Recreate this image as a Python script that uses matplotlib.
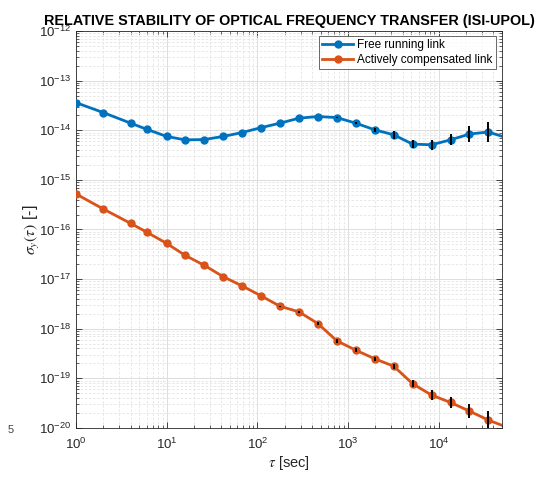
import matplotlib
matplotlib.use('Agg')
import matplotlib.pyplot as plt
import matplotlib.ticker as mticker
import numpy as np

plt.rcParams['font.family'] = ['Liberation Sans', 'DejaVu Sans']
plt.rcParams['mathtext.fontset'] = 'stix'

# averaging times [s]
tau = [1, 2, 4, 6, 10, 16, 26, 42, 68, 110, 178, 288, 466, 754,
       1220, 1974, 3194, 5168, 8362, 13530, 21892, 35422, 57314]

# Allan deviation, free running link
adev_free = [3.6e-14, 2.27e-14, 1.39e-14, 1.05e-14, 7.5e-15, 6.4e-15,
             6.5e-15, 7.5e-15, 9.0e-15, 1.13e-14, 1.39e-14, 1.75e-14,
             1.89e-14, 1.80e-14, 1.39e-14, 1.02e-14, 8.1e-15, 5.25e-15,
             5.1e-15, 6.4e-15, 8.4e-15, 9.2e-15, 7.0e-15]

# Allan deviation, actively compensated link
adev_comp = [5.2e-16, 2.59e-16, 1.33e-16, 8.9e-17, 5.25e-17, 3.01e-17,
             1.90e-17, 1.12e-17, 7.3e-18, 4.6e-18, 2.84e-18, 2.19e-18,
             1.27e-18, 5.7e-19, 3.7e-19, 2.48e-19, 1.76e-19, 7.8e-20,
             4.6e-20, 3.27e-20, 2.19e-20, 1.44e-20, 1.03e-20]

# multiplicative confidence factors (upper = y*f, lower = y/f)
conf_free = [1.0, 1.0, 1.0, 1.0, 1.0, 1.0, 1.0, 1.0, 1.0, 1.0, 1.0, 1.0,
             1.0, 1.02, 1.05, 1.10, 1.20, 1.19, 1.26, 1.29, 1.47, 1.57, 1.7]
conf_comp = [1.0, 1.0, 1.0, 1.0, 1.0, 1.0, 1.0, 1.0, 1.0, 1.0, 1.02, 1.04,
             1.08, 1.10, 1.10, 1.10, 1.12, 1.19, 1.26, 1.29, 1.38, 1.52, 1.6]

BLUE = '#0072BD'
ORANGE = '#D95319'

fig = plt.figure(figsize=(5.35, 4.79), dpi=100)
ax = fig.add_axes([76 / 535, 1 - 428 / 479, 426 / 535, 397 / 479])


def draw_series(y, conf, color, label):
    y = np.array(y)
    f = np.array(conf)
    ax.plot(tau, y, '-o', color=color, lw=2, ms=5, mfc=color, mec=color,
            label=label, zorder=3, clip_on=True)
    err = np.vstack([y - y / f, y * f - y])
    ax.errorbar(tau, y, yerr=err, fmt='none', ecolor='black', elinewidth=1.4,
                capsize=0, zorder=4)


draw_series(adev_free, conf_free, BLUE, 'Free running link')
draw_series(adev_comp, conf_comp, ORANGE, 'Actively compensated link')

ax.set_xscale('log')
ax.set_yscale('log')
ax.set_xlim(1, 5e4)
ax.set_ylim(1e-20, 1e-12)

ax.xaxis.set_major_locator(mticker.LogLocator(base=10, numticks=20))
ax.yaxis.set_major_locator(mticker.FixedLocator([10.0 ** k for k in range(-20, -11)]))
ax.xaxis.set_minor_locator(mticker.LogLocator(base=10, subs=np.arange(2, 10), numticks=20))
ax.yaxis.set_minor_locator(mticker.LogLocator(base=10, subs=np.arange(2, 10), numticks=20))
ax.yaxis.set_major_formatter(mticker.LogFormatterSciNotation())
ax.yaxis.set_minor_formatter(mticker.NullFormatter())
ax.xaxis.set_minor_formatter(mticker.NullFormatter())

ax.tick_params(which='both', direction='in', top=True, right=True,
               colors='#262626', labelcolor='#262626', labelsize=9.5)
ax.tick_params(which='major', length=4.5, width=0.6)
ax.tick_params(which='minor', length=2.5, width=0.5)
ax.tick_params(axis='x', pad=6)

ax.grid(True, which='major', color='#dddddd', lw=0.7, ls='-')
ax.grid(True, which='minor', color='#e4e4e4', lw=0.6, ls=(0, (3, 2)))
ax.set_axisbelow(True)
for s in ax.spines.values():
    s.set_color('#262626')
    s.set_linewidth(0.6)

ax.set_xlabel(r'$\tau$ [sec]', fontsize=10.5, color='#262626', labelpad=2)
ax.set_ylabel(r'$\sigma_y(\tau)$ [-]', fontsize=11.5, color='#262626', labelpad=-2)
ax.set_title('RELATIVE STABILITY OF OPTICAL FREQUENCY TRANSFER (ISI-UPOL)',
             fontsize=10.4, fontweight='bold', pad=4)

leg = ax.legend(loc='upper right', fontsize=8.5, frameon=True, fancybox=False,
                bbox_to_anchor=(0.985, 0.988), borderaxespad=0.0,
                handlelength=2.6, handletextpad=0.3,
                borderpad=0.3, labelspacing=0.2)
leg.get_frame().set_edgecolor('#262626')
leg.get_frame().set_linewidth(0.6)

fig.text(8 / 535, 1 - 430 / 479, '5', fontsize=8, color='#444444', va='center')

fig.savefig('out.png', dpi=100)
